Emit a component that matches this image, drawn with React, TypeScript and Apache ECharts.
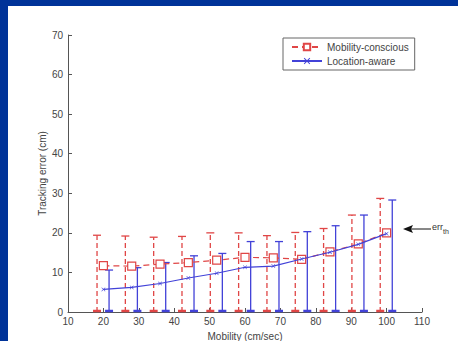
import React, { useEffect, useRef } from "react";
import * as echarts from "echarts";

const mobility = [20, 28, 36, 44, 52, 60, 68, 76, 84, 92, 100];
const mobilityMean = [11.7, 11.6, 12.1, 12.5, 13.1, 13.8, 13.7, 13.3, 15.2, 17.2, 20.0];
const mobilityTop = [19.4, 19.2, 18.9, 19.1, 20.0, 20.0, 19.3, 20.1, 21.1, 24.5, 28.7];
const locationMean = [5.7, 6.2, 7.2, 8.6, 9.8, 11.3, 11.6, 13.4, 15.1, 17.1, 19.8];
const locationTop = [10.6, 11.2, 12.5, 14.2, 14.8, 17.8, 17.8, 20.3, 21.8, 24.5, 28.3];
const xTicks = [10, 20, 30, 40, 50, 60, 70, 80, 90, 100, 110];
const yTicks = [0, 10, 20, 30, 40, 50, 60, 70];

const RED = "#e04646";
const BLUE = "#4242d8";
const FONT = "Liberation Sans";

function makeErr(offset: number, color: string, dashed: boolean) {
  return (params: any, api: any) => {
    const x = api.value(0) + offset;
    const top = api.value(1);
    const p0 = api.coord([x, 0]);
    const p1 = api.coord([x, top]);
    const cap = 4;
    return {
      type: "group",
      children: [
        {
          type: "line",
          shape: { x1: p0[0], y1: p0[1], x2: p1[0], y2: p1[1] },
          style: { stroke: color, lineWidth: 1.3, lineDash: dashed ? [5, 3] : null },
        },
        {
          type: "line",
          shape: { x1: p1[0] - cap, y1: p1[1], x2: p1[0] + cap, y2: p1[1] },
          style: { stroke: color, lineWidth: 1.3 },
        },
        {
          type: "line",
          shape: { x1: p0[0] - cap, y1: p0[1] - 1, x2: p0[0] + cap, y2: p0[1] - 1 },
          style: { stroke: color, lineWidth: 2.5 },
        },
      ],
    };
  };
}

export default function App() {
  const ref = useRef<HTMLDivElement>(null);
  useEffect(() => {
    if (!ref.current) return;
    const chart = echarts.init(ref.current, null, { renderer: "svg" });
    const axisColor = "#555";
    chart.setOption({
      animation: false,
      backgroundColor: "#ffffff",
      grid: { left: 60, top: 29, right: 36, bottom: 29, containLabel: false, outerBoundsMode: "none" },
      xAxis: {
        type: "value",
        min: xTicks[0],
        max: xTicks[xTicks.length - 1],
        interval: 10,
        name: "Mobility (cm/sec)",
        nameLocation: "middle",
        nameGap: 19,
        nameMoveOverlap: false,
        nameTextStyle: { fontFamily: FONT, fontSize: 10, color: "#444" },
        axisLine: { lineStyle: { color: axisColor, width: 1 } },
        axisTick: { inside: true, length: 4, lineStyle: { color: axisColor } },
        axisLabel: { fontFamily: FONT, fontSize: 10, color: "#444", margin: 4 },
        splitLine: { show: false },
      },
      yAxis: {
        type: "value",
        min: yTicks[0],
        max: yTicks[yTicks.length - 1],
        interval: 10,
        name: "Tracking error (cm)",
        nameLocation: "middle",
        nameGap: 21,
        nameMoveOverlap: false,
        nameTextStyle: { fontFamily: FONT, fontSize: 10, color: "#444" },
        axisLine: { show: true, lineStyle: { color: axisColor, width: 1 } },
        axisTick: { show: true, inside: true, length: 4, lineStyle: { color: axisColor } },
        axisLabel: { fontFamily: FONT, fontSize: 10, color: "#444", margin: 5 },
        splitLine: { show: false },
      },
      legend: {
        data: ["Mobility-conscious", "Location-aware"],
        orient: "vertical",
        left: 275,
        top: 32,
        width: 131,
        padding: [4, 6, 4, 8],
        itemGap: 4,
        itemWidth: 30,
        itemHeight: 8,
        backgroundColor: "#fff",
        borderColor: "#666",
        borderWidth: 1,
        textStyle: { fontFamily: FONT, fontSize: 10, color: "#444" },
      },
      series: [
        {
          name: "Mobility-conscious",
          type: "line",
          data: mobility.map((x, i) => [x, mobilityMean[i]]),
          lineStyle: { color: RED, type: [6, 4], width: 1.2 },
          itemStyle: { color: "#fff", borderColor: RED, borderWidth: 1.2 },
          symbol: "rect",
          symbolSize: 8,
          z: 3,
        },
        {
          name: "Location-aware",
          type: "line",
          data: mobility.map((x, i) => [x, locationMean[i]]),
          lineStyle: { color: BLUE, width: 1.2 },
          itemStyle: { color: BLUE },
          symbol: "path://M0,1L1,0L5,4L9,0L10,1L6,5L10,9L9,10L5,6L1,10L0,9L4,5Z",
          symbolSize: 4,
          z: 4,
        },
        {
          type: "custom",
          renderItem: makeErr(-1.8, RED, true),
          data: mobility.map((x, i) => [x, mobilityTop[i]]),
          z: 2,
        },
        {
          type: "custom",
          renderItem: makeErr(1.6, BLUE, false),
          data: mobility.map((x, i) => [x, locationTop[i]]),
          z: 2,
        },
      ],
      graphic: [
        {
          type: "line",
          shape: { x1: 400, y1: 223, x2: 423, y2: 223 },
          style: { stroke: "#111", lineWidth: 1 },
        },
        {
          type: "polygon",
          shape: { points: [[395, 223], [405, 219], [403, 223], [405, 227]] },
          style: { fill: "#111" },
        },
        {
          type: "text",
          x: 424,
          y: 216,
          style: {
            text: "{a|err}{b|th}",
            rich: {
              a: { fontFamily: FONT, fontSize: 9, fill: "#333", verticalAlign: "top" },
              b: { fontFamily: FONT, fontSize: 7, fill: "#333", padding: [6, 0, 0, 0] },
            },
          },
        },
      ],
    });
    return () => chart.dispose();
  }, []);
  return (
    <div style={{ position: "absolute", left: 0, top: 0, width: 458, height: 341, background: "#003399" }}>
      <div ref={ref} style={{ position: "absolute", left: 8, top: 6, width: 450, height: 335 }} />
    </div>
  );
}
